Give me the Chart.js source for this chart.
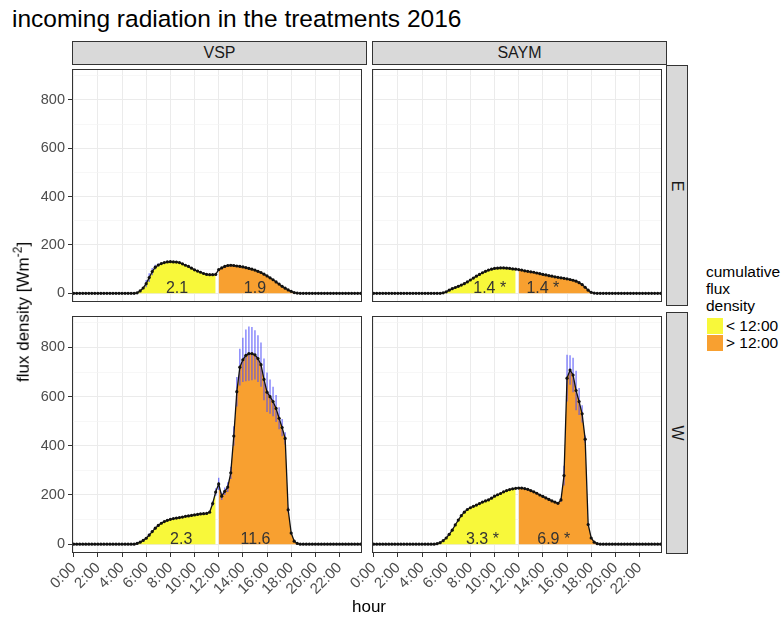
<!DOCTYPE html>
<html lang="en">
<head>
<meta charset="UTF-8">
<title>incoming radiation in the treatments 2016</title>
<script src="https://cdn.jsdelivr.net/npm/chart.js"></script>
<style>
    body {
        margin: 0;
        width: 783px;
        height: 617px;
        background: #fff;
        position: relative;
        overflow: hidden;
        font-family: "Liberation Sans", Arial, sans-serif;
        color: #000;
    }
    canvas { position: absolute; }
    .txt { position: absolute; white-space: nowrap; }
    .strip {
        position: absolute;
        background: #d9d9d9;
        border: 1px solid #333;
        box-sizing: border-box;
        color: #1a1a1a;
        font-size: 16px;
        display: flex;
        align-items: center;
        justify-content: center;
    }
    .strip span { display: inline-block; }
    .key { position: absolute; width: 16px; height: 16px; }
</style>
</head>
<body>

<div class="txt" style="left:12px; top:5px; font-size:24.5px;">incoming radiation in the treatments 2016</div>

<div class="strip" style="left:72px; top:41px; width:295px; height:24px;">VSP</div>
<div class="strip" style="left:372px; top:41px; width:295px; height:24px;">SAYM</div>
<div class="strip" style="left:666px; top:65px; width:22px; height:241px;"><span style="transform:rotate(90deg)">E</span></div>
<div class="strip" style="left:666px; top:312px; width:22px; height:242px;"><span style="transform:rotate(90deg)">W</span></div>

<canvas id="vspE" width="334" height="241" style="left:32px; top:65px;"></canvas>
<canvas id="saymE" width="334" height="241" style="left:332px; top:65px;"></canvas>
<canvas id="vspW" width="334" height="292" style="left:32px; top:312px;"></canvas>
<canvas id="saymW" width="334" height="292" style="left:332px; top:312px;"></canvas>

<div class="txt" style="left:22px; top:312px; font-size:17px; transform:translate(-50%,-50%) rotate(-90deg);">flux density [Wm<sup style="font-size:12px">-2</sup>]</div>
<div class="txt" style="left:369px; top:607px; font-size:17px; transform:translate(-50%,-50%);">hour</div>

<!-- legend -->
<div class="txt" style="left:706px; top:263px; font-size:15.5px; line-height:17px;">cumulative<br>flux<br>density</div>
<div class="key" style="left:707px; top:318px; background:#f8f83a;"></div>
<div class="key" style="left:707px; top:335px; background:#f8a030;"></div>
<div class="txt" style="left:726px; top:317px; font-size:15.5px; line-height:17px;">&lt; 12:00<br>&gt; 12:00</div>

<script>
    // time axis: one reading every 15 minutes
    const hours = [];
    for (let i = 0; i < 96; i++) hours.push(i / 4);
    const hourTicks = [0, 2, 4, 6, 8, 10, 12, 14, 16, 18, 20, 22];
    const fluxTicks = [0, 100, 200, 300, 400, 500, 600, 700, 800, 900];
    const splitHour = 12;

    // mean incoming radiation [W m-2]
    const vspE = [
        0,0,0,0,0,0,0,0,0,0,0,0,
        0,0,0,0,0,0,0,0,0,2,10,22,
        40,65,90,108,117,123,127,130,131,130,129,127,
        122,116,111,104,97,92,87,82,78,77,77,78,
        98,105,111,115,116,115,113,111,109,106,103,100,
        96,91,86,79,72,64,56,47,38,29,21,14,
        8,3,1,0,0,0,0,0,0,0,0,0,
        0,0,0,0,0,0,0,0,0,0,0,0
    ];
    const saymE = [
        0,0,0,0,0,0,0,0,0,0,0,0,
        0,0,0,0,0,0,0,0,0,0,0,2,
        6,13,19,24,29,34,40,47,55,63,71,78,
        85,91,96,100,103,104,105,105,104,103,101,100,
        98,96,93,91,89,87,84,81,78,76,73,71,
        68,66,64,62,60,57,54,50,44,36,25,13,
        4,1,0,0,0,0,0,0,0,0,0,0,
        0,0,0,0,0,0,0,0,0,0,0,0
    ];
    const vspW = [
        0,0,0,0,0,0,0,0,0,0,0,0,
        0,0,0,0,0,0,0,0,0,3,8,15,
        24,37,51,65,76,85,92,97,101,104,106,108,
        110,113,115,117,119,121,123,124,125,130,165,212,
        245,195,215,232,290,440,620,720,750,768,775,775,
        770,755,730,670,618,600,580,552,512,474,430,140,
        45,12,3,0,0,0,0,0,0,0,0,0,
        0,0,0,0,0,0,0,0,0,0,0,0
    ];
    const saymW = [
        0,0,0,0,0,0,0,0,0,0,0,0,
        0,0,0,0,0,0,0,0,0,2,6,14,
        25,40,57,78,98,116,130,141,148,154,159,165,
        171,176,180,187,195,201,206,213,218,222,225,227,
        228,228,226,223,218,213,207,200,194,188,182,176,
        171,166,180,279,675,708,688,625,580,530,427,80,
        25,8,2,0,0,0,0,0,0,0,0,0,
        0,0,0,0,0,0,0,0,0,0,0,0
    ];

    // standard deviation (error bars)
    const errVspE = [
        0,0,0,0,0,0,0,0,0,0,0,0,
        0,0,0,0,0,0,0,0,0,0,0,0,
        15,18,15,10,6,0,0,0,0,0,0,0,
        0,0,0,0,0,0,0,0,0,0,0,0,
        0,0,0,0,0,0,0,0,0,0,0,0,
        0,0,0,0,0,0,0,0,0,0,0,0,
        0,0,0,0,0,0,0,0,0,0,0,0,
        0,0,0,0,0,0,0,0,0,0,0,0
    ];
    const errSaymE = [
        0,0,0,0,0,0,0,0,0,0,0,0,
        0,0,0,0,0,0,0,0,0,0,0,0,
        0,0,0,0,0,0,0,0,0,0,0,0,
        0,0,0,0,0,0,0,0,0,0,0,0,
        0,0,0,0,0,0,0,0,0,0,0,0,
        0,0,0,0,0,0,0,0,0,0,0,0,
        0,0,0,0,0,0,0,0,0,0,0,0,
        0,0,0,0,0,0,0,0,0,0,0,0
    ];
    const errVspW = [
        0,0,0,0,0,0,0,0,0,0,0,0,
        0,0,0,0,0,0,0,0,0,0,0,0,
        5,6,6,5,4,0,0,0,0,0,0,0,
        0,0,0,0,0,0,0,0,0,0,10,15,
        25,15,15,20,25,40,60,75,90,105,110,108,
        100,95,90,85,80,70,60,55,45,35,25,10,
        0,0,0,0,0,0,0,0,0,0,0,0,
        0,0,0,0,0,0,0,0,0,0,0,0
    ];
    const errSaymW = [
        0,0,0,0,0,0,0,0,0,0,0,0,
        0,0,0,0,0,0,0,0,0,0,0,0,
        0,0,0,0,0,0,0,0,0,0,0,0,
        0,0,0,0,0,0,0,0,0,0,0,0,
        0,0,0,0,0,0,0,0,0,0,0,0,
        0,0,8,40,95,60,70,80,55,35,15,5,
        0,0,0,0,0,0,0,0,0,0,0,0,
        0,0,0,0,0,0,0,0,0,0,0,0
    ];

    // cumulative flux density labels (before / after noon)
    const cumVspE = ['2.1', '1.9'];
    const cumSaymE = ['1.4 *', '1.4 *'];
    const cumVspW = ['2.3', '11.6'];
    const cumSaymW = ['3.3 *', '6.9 *'];
    const cumHoursVspE = [8.55, 15.0];
    const cumHoursSaymE = [9.6, 14.0];
    const cumHoursVspW = [8.9, 15.05];
    const cumHoursSaymW = [9.0, 14.9];

    const yellow = '#f8f83a';
    const orange = '#f8a030';
    const fontFamily = '"Liberation Sans", Arial, sans-serif';

    function makePanel(id, vals, errs, cumText, cumHours, showY, showX) {
        const pts = hours.map((h, i) => ({ x: h, y: vals[i] }));
        const am = pts.filter(p => p.x < splitHour);
        const pm = pts.filter(p => p.x >= splitHour);

        // blue error bars, drawn over the fill but under the mean line
        const errorBars = {
            id: 'errorBars',
            beforeDatasetDraw(chart, args) {
                if (args.index !== 0) return;
                const { ctx, scales: { x, y } } = chart;
                ctx.save();
                ctx.strokeStyle = 'rgba(75, 75, 250, 0.7)';
                ctx.lineWidth = 1.4;
                hours.forEach((h, i) => {
                    if (!errs[i]) return;
                    const px = x.getPixelForValue(h);
                    ctx.beginPath();
                    ctx.moveTo(px, y.getPixelForValue(vals[i] - errs[i]));
                    ctx.lineTo(px, y.getPixelForValue(vals[i] + errs[i]));
                    ctx.stroke();
                });
                ctx.restore();
            }
        };

        const cumLabels = {
            id: 'cumLabels',
            afterDatasetsDraw(chart) {
                const { ctx, scales: { x, y } } = chart;
                ctx.save();
                ctx.fillStyle = '#333';
                ctx.font = '16px ' + fontFamily;
                ctx.textAlign = 'center';
                ctx.textBaseline = 'alphabetic';
                cumText.forEach((t, i) => {
                    ctx.fillText(t, x.getPixelForValue(cumHours[i]), y.getPixelForValue(0));
                });
                ctx.restore();
            }
        };

        const frame = {
            id: 'frame',
            afterDraw(chart) {
                const { ctx, chartArea: a } = chart;
                ctx.save();
                ctx.strokeStyle = '#333';
                ctx.lineWidth = 1;
                ctx.strokeRect(a.left + 0.5, a.top + 0.5, a.right - a.left - 1, a.bottom - a.top - 1);
                ctx.restore();
            }
        };

        new Chart(document.getElementById(id), {
            type: 'line',
            data: {
                datasets: [
                    {
                        data: pts,
                        borderColor: '#111',
                        borderWidth: 1.3,
                        pointRadius: 1.6,
                        pointBackgroundColor: '#111',
                        pointBorderWidth: 0,
                        fill: false,
                        tension: 0
                    },
                    { data: pm, borderWidth: 0, pointRadius: 0, backgroundColor: orange, fill: 'origin' },
                    { data: am, borderWidth: 0, pointRadius: 0, backgroundColor: yellow, fill: 'origin' }
                ]
            },
            options: {
                responsive: false,
                animation: false,
                events: [],
                layout: { padding: 0 },
                plugins: { legend: { display: false }, tooltip: { enabled: false } },
                scales: {
                    x: {
                        type: 'linear',
                        min: -0.14,
                        max: 23.86,
                        afterBuildTicks: s => { s.ticks = hourTicks.map(v => ({ value: v })); },
                        afterFit: s => {
                            s.height = showX ? 51 : 0;
                            s.paddingLeft = 0; s.paddingRight = 0;
                        },
                        border: { display: false },
                        grid: { color: '#ebebeb', lineWidth: 1, drawTicks: showX, tickLength: 4, tickColor: '#333' },
                        ticks: {
                            display: showX,
                            autoSkip: false,
                            minRotation: 45,
                            maxRotation: 45,
                            padding: 2,
                            color: '#4d4d4d',
                            font: { size: 15, family: fontFamily },
                            callback: v => v + ':00'
                        }
                    },
                    y: {
                        min: -36,
                        max: 928,
                        afterBuildTicks: s => { s.ticks = fluxTicks.map(v => ({ value: v })); },
                        afterFit: s => {
                            s.width = 40;
                            s.paddingTop = 0; s.paddingBottom = 0;
                        },
                        border: { display: false },
                        grid: {
                            color: c => c.tick && c.tick.value % 200 === 0 ? '#ebebeb' : '#f3f3f3',
                            lineWidth: c => c.tick && c.tick.value % 200 === 0 ? 1 : 0.7,
                            drawTicks: showY,
                            tickLength: 4,
                            tickColor: c => c.tick && c.tick.value % 200 === 0 ? '#333' : 'rgba(0,0,0,0)'
                        },
                        ticks: {
                            display: showY,
                            padding: 3,
                            color: '#4d4d4d',
                            font: { size: 14.5, family: fontFamily },
                            callback: v => v % 200 === 0 ? v : ''
                        }
                    }
                }
            },
            plugins: [errorBars, cumLabels, frame]
        });
    }

    makePanel('vspE', vspE, errVspE, cumVspE, cumHoursVspE, true, false);
    makePanel('saymE', saymE, errSaymE, cumSaymE, cumHoursSaymE, false, false);
    makePanel('vspW', vspW, errVspW, cumVspW, cumHoursVspW, true, true);
    makePanel('saymW', saymW, errSaymW, cumSaymW, cumHoursSaymW, false, true);
</script>
</body>
</html>
